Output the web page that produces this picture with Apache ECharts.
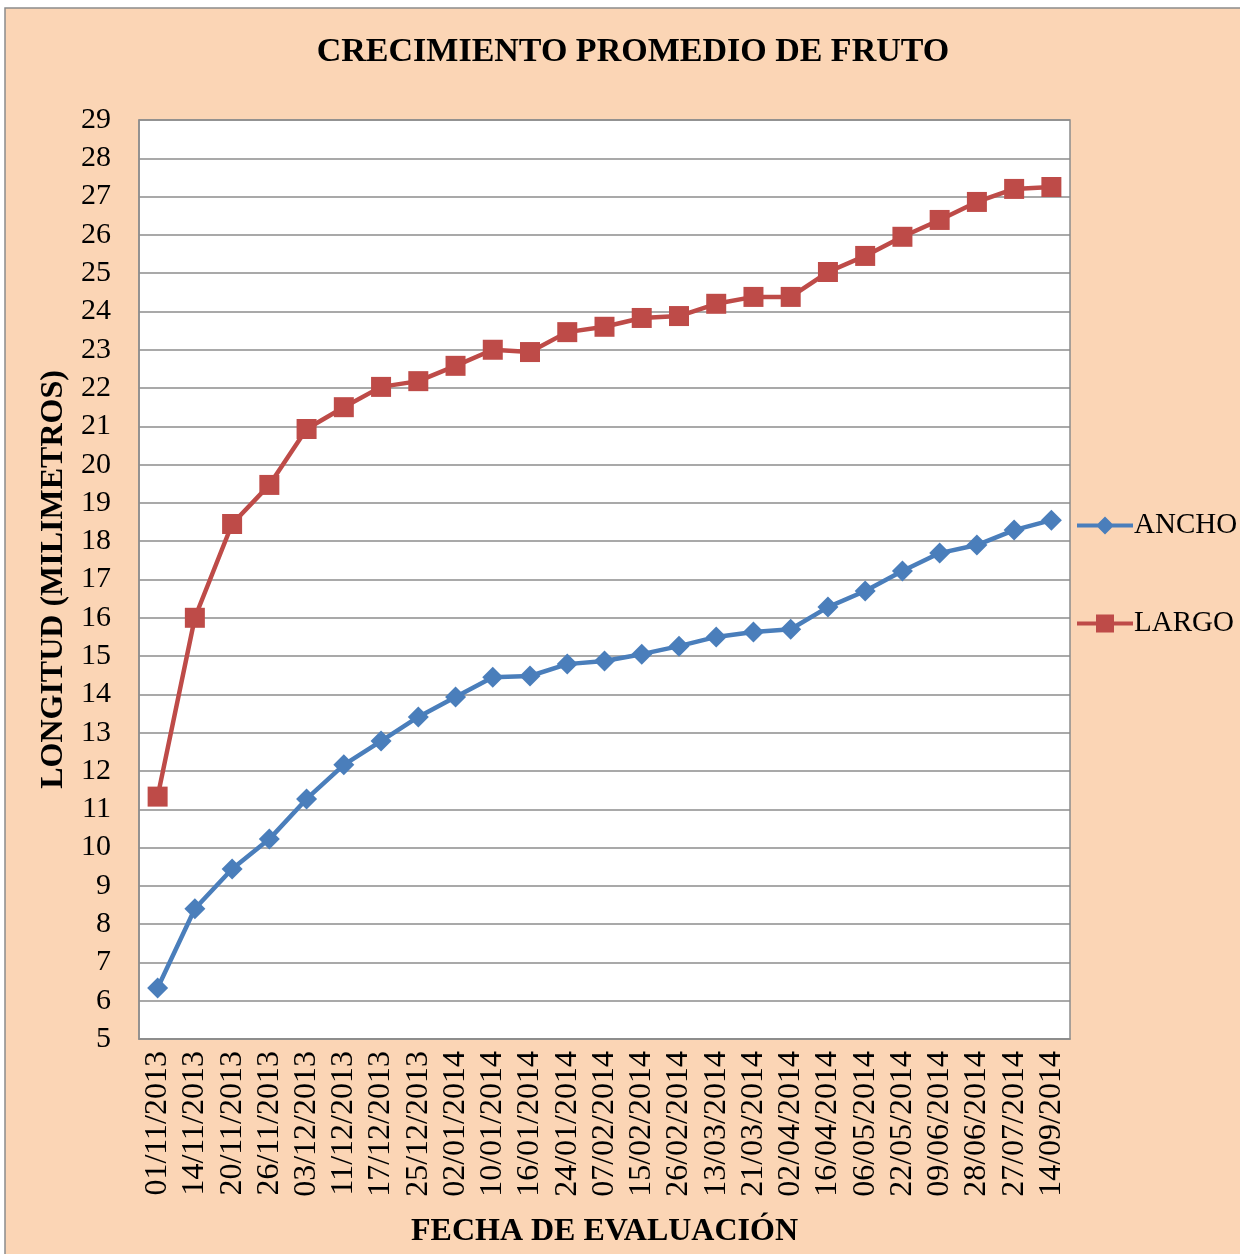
<!DOCTYPE html>
<html>
<head>
<meta charset="utf-8">
<script src="https://cdn.jsdelivr.net/npm/echarts@6/dist/echarts.min.js"></script>
<style>
  html, body { margin: 0; padding: 0; background: #fff; }
  #chart { width: 1240px; height: 1254px; }
</style>
</head>
<body>
<div id="chart"></div>
<script>
// fechas de evaluacion
const fechas = ['01/11/2013', '14/11/2013', '20/11/2013', '26/11/2013', '03/12/2013', '11/12/2013',
    '17/12/2013', '25/12/2013', '02/01/2014', '10/01/2014', '16/01/2014', '24/01/2014', '07/02/2014',
    '15/02/2014', '26/02/2014', '13/03/2014', '21/03/2014', '02/04/2014', '16/04/2014', '06/05/2014',
    '22/05/2014', '09/06/2014', '28/06/2014', '27/07/2014', '14/09/2014']
// longitudes en mm
const ancho = [6.33, 8.4, 9.44, 10.22, 11.27, 12.16, 12.78, 13.41, 13.93, 14.45, 14.48, 14.79, 14.87,
    15.05, 15.26, 15.5, 15.63, 15.7, 16.28, 16.7, 17.22, 17.69, 17.9, 18.29, 18.55]
const largo = [11.33, 16.0, 18.45, 19.47, 20.93, 21.5, 22.03, 22.18, 22.58, 23.0, 22.94, 23.46, 23.6,
    23.83, 23.88, 24.2, 24.38, 24.38, 25.03, 25.45, 25.95, 26.39, 26.86, 27.2, 27.25]

const fuente = 'Liberation Serif'
// iconos de leyenda: linea con rombo / linea con cuadrado
const iconoRombo = 'path://M0,7L21,7L28,0L35,7L56,7L56,11L35,11L28,18L21,11L0,11Z'
const iconoCuadro = 'path://M0,7L19,7L19,0L37,0L37,7L56,7L56,11L37,11L37,18L19,18L19,11L0,11Z'

const myChart = echarts.init(document.getElementById('chart'))
myChart.setOption({
    backgroundColor: '#fff',
    textStyle: { fontFamily: fuente },
    graphic: [
        // fondo del grafico
        {
            type: 'rect', z: -10,
            shape: { x: 5, y: 8, width: 1240, height: 1250 },
            style: { fill: '#FBD5B5', stroke: '#8c8c8c', lineWidth: 1.5 }
        }
    ],
    title: {
        text: 'CRECIMIENTO PROMEDIO DE FRUTO',
        left: 628,
        top: 30,
        textAlign: 'center',
        textStyle: { fontFamily: fuente, fontWeight: 'bold', fontSize: 34, color: '#000' }
    },
    legend: {
        orient: 'vertical',
        left: 1077,
        top: 511,
        padding: 0,
        itemGap: 69,
        itemWidth: 56,
        itemHeight: 18,
        textStyle: { fontFamily: fuente, fontSize: 29, color: '#000', padding: [0, 0, 0, -4] },
        data: [
            { name: 'ANCHO', icon: iconoRombo },
            { name: 'LARGO', icon: iconoCuadro }
        ]
    },
    grid: {
        left: 139, top: 120, right: 170, bottom: 215,
        outerBoundsMode: 'none',
        show: true, backgroundColor: '#fff', borderColor: '#8c8c8c', borderWidth: 1.5
    },
    xAxis: {
        type: 'category',
        data: fechas,
        boundaryGap: true,
        name: 'FECHA DE EVALUACIÓN',
        nameLocation: 'middle',
        nameGap: 177,
        nameTextStyle: { fontFamily: fuente, fontWeight: 'bold', fontSize: 32, color: '#000' },
        axisLine: { lineStyle: { color: '#8c8c8c', width: 1.5 } },
        axisTick: { show: false },
        axisLabel: { rotate: 90, interval: 0, fontFamily: fuente, fontSize: 32, color: '#000', margin: 12 }
    },
    yAxis: {
        type: 'value',
        min: 5, max: 29, interval: 1,
        name: 'LONGITUD (MILIMETROS)',
        nameLocation: 'middle',
        nameGap: 68,
        nameTextStyle: { fontFamily: fuente, fontWeight: 'bold', fontSize: 32, color: '#000' },
        axisLine: { show: true, lineStyle: { color: '#8c8c8c', width: 1.5 } },
        axisTick: { show: false },
        axisLabel: { fontFamily: fuente, fontSize: 30, color: '#000', margin: 28 },
        splitLine: { lineStyle: { color: '#8c8c8c', width: 1.5 } }
    },
    series: [
        {
            name: 'ANCHO',
            type: 'line',
            data: ancho,
            symbol: 'diamond',
            symbolSize: 21,
            color: '#4A7EBB',
            lineStyle: { width: 4.5, color: '#4A7EBB' },
            itemStyle: { color: '#4A7EBB' }
        },
        {
            name: 'LARGO',
            type: 'line',
            data: largo,
            symbol: 'rect',
            symbolSize: 20,
            color: '#BE4B48',
            lineStyle: { width: 4.5, color: '#BE4B48' },
            itemStyle: { color: '#BE4B48' }
        }
    ],
    animation: false
})
</script>
</body>
</html>
